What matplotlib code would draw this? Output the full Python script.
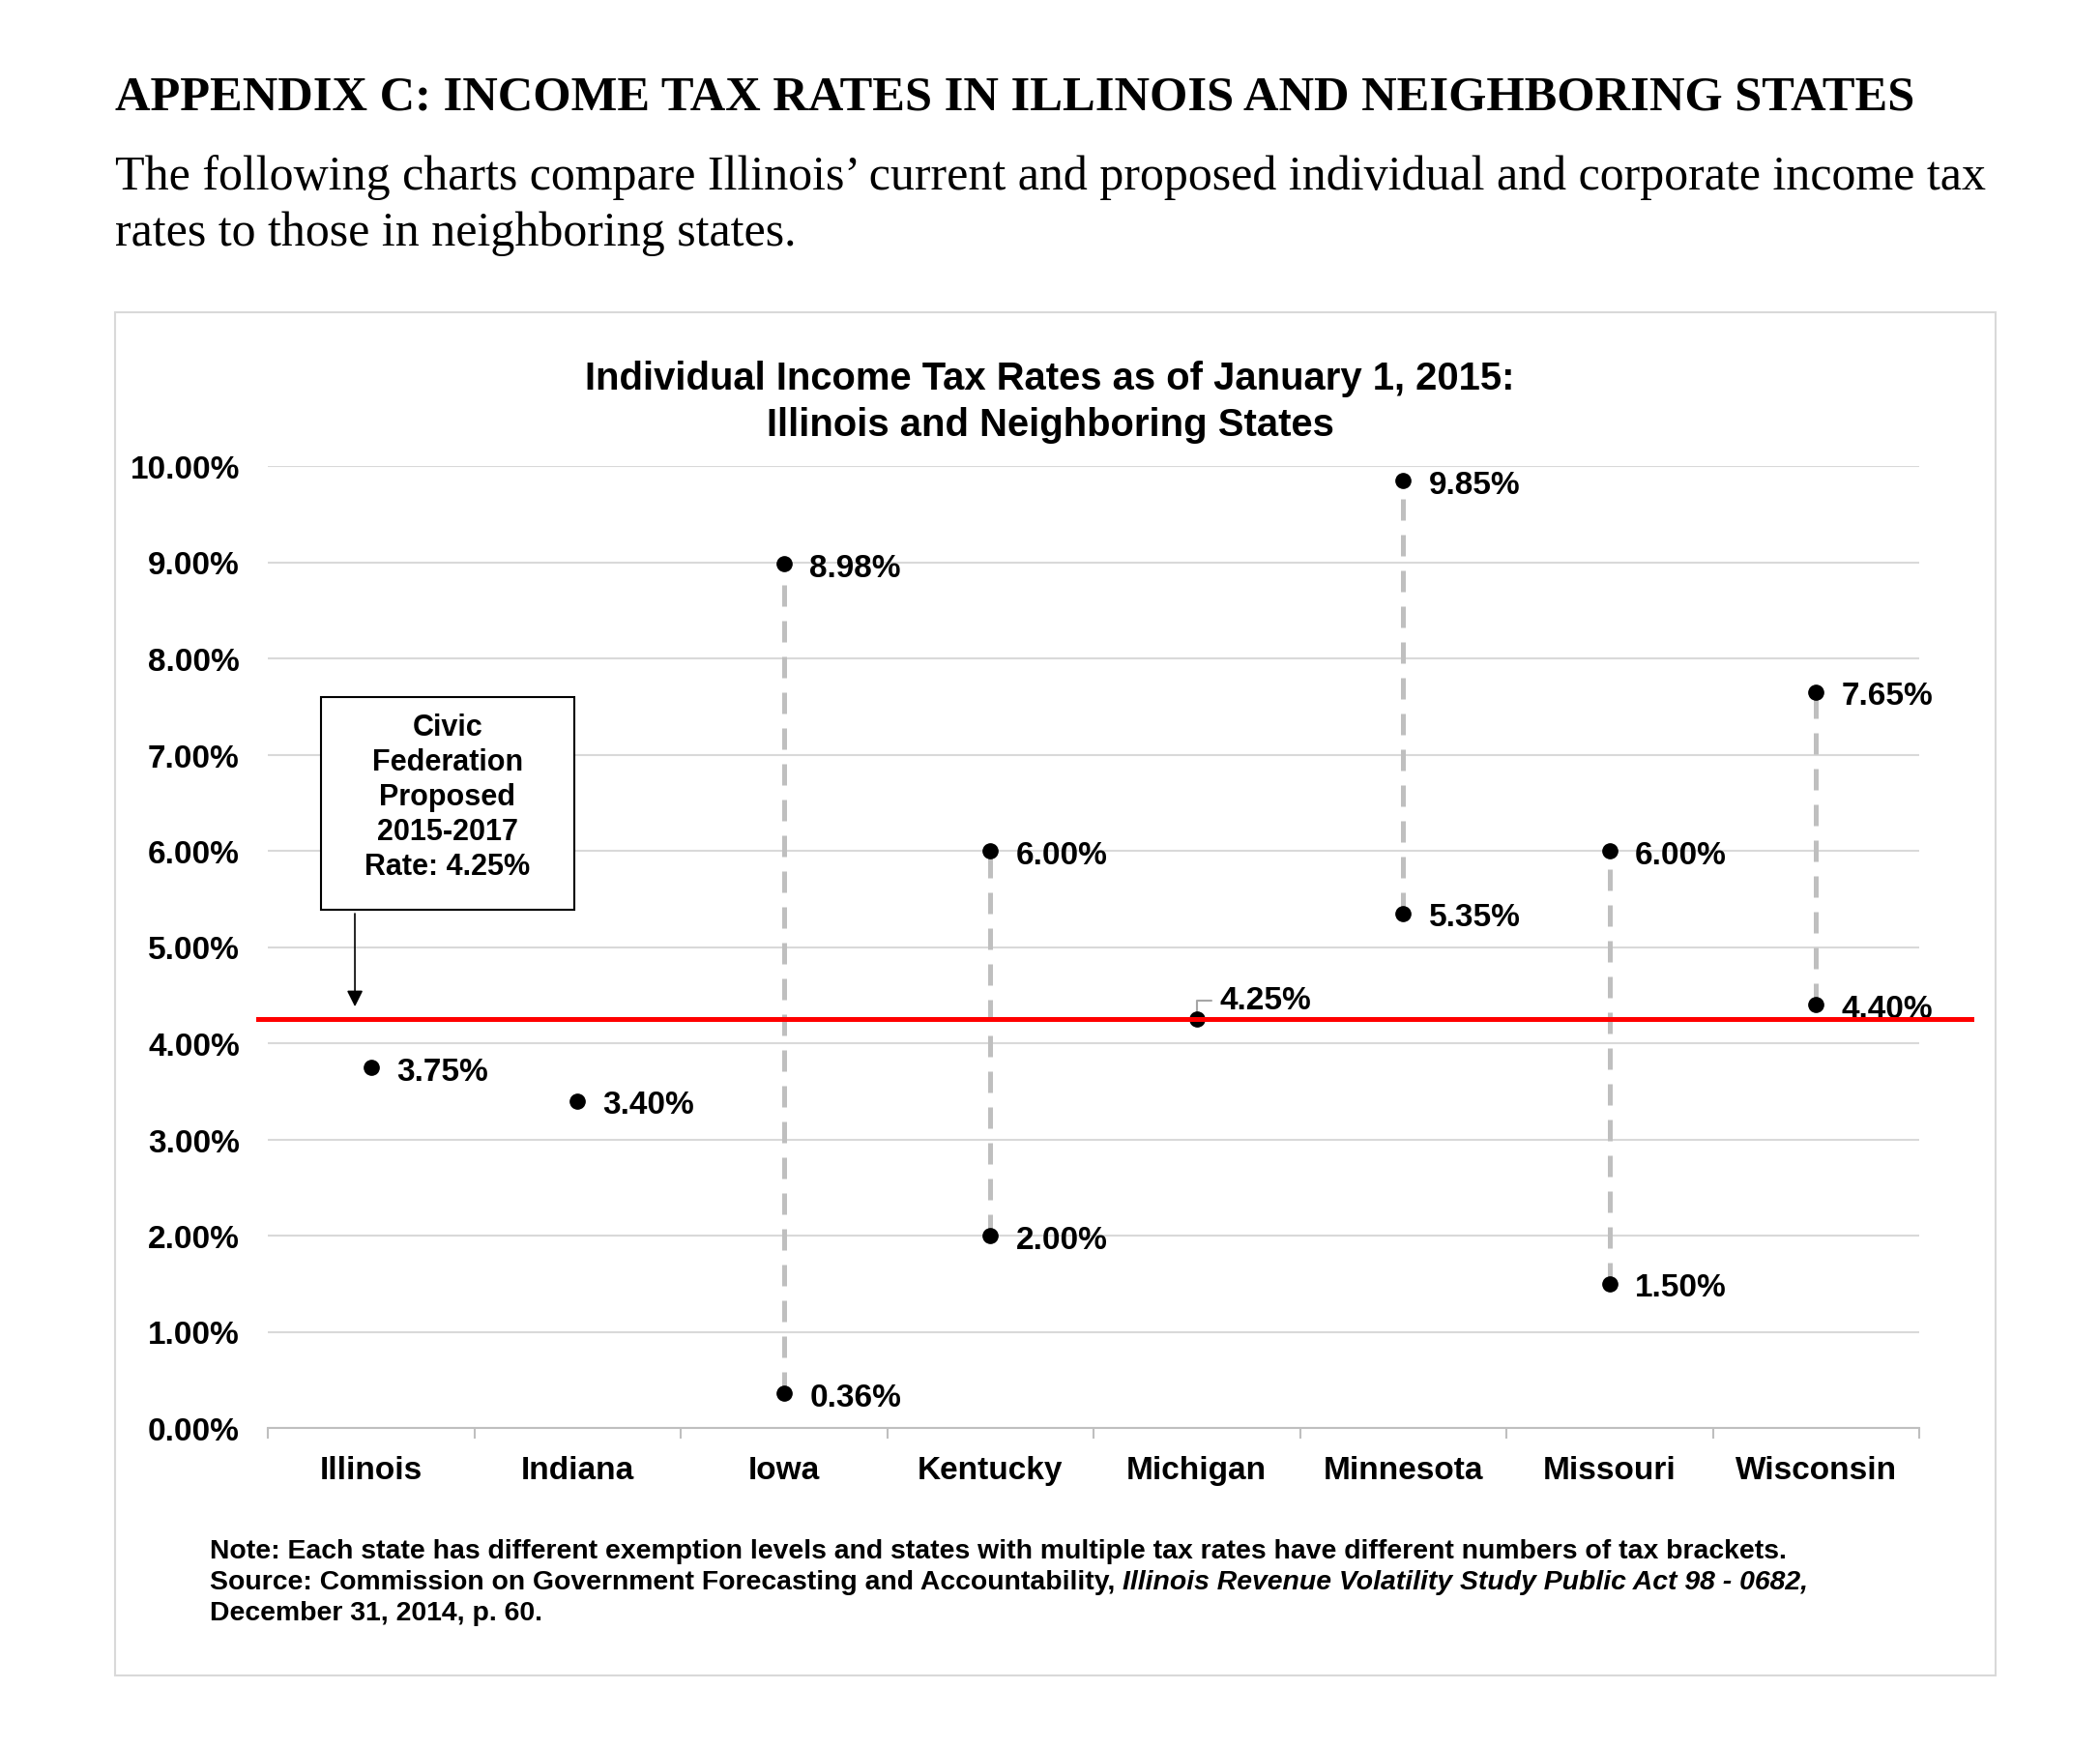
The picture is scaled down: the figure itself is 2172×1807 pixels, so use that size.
import matplotlib
matplotlib.use("Agg")
import matplotlib.pyplot as plt
from matplotlib.patches import Rectangle

# ---------------- data ----------------
states = ["Illinois", "Indiana", "Iowa", "Kentucky", "Michigan", "Minnesota", "Missouri", "Wisconsin"]
low_rates = [3.75, 3.40, 0.36, 2.00, 4.25, 5.35, 1.50, 4.40]
high_rates = [None, None, 8.98, 6.00, None, 9.85, 6.00, 7.65]
proposed_rate = 4.25
y_ticks = [0, 1, 2, 3, 4, 5, 6, 7, 8, 9, 10]

heading = "APPENDIX C: INCOME TAX RATES IN ILLINOIS AND NEIGHBORING STATES"
intro_lines = ["The following charts compare Illinois\u2019 current and proposed individual and corporate income tax",
               "rates to those in neighboring states."]
chart_title = ["Individual Income Tax Rates as of January 1, 2015:", "Illinois and Neighboring States"]
box_text = "Civic\nFederation\nProposed\n2015-2017\nRate: 4.25%"
note_line = "Note: Each state has different exemption levels and states with multiple tax rates have different numbers of tax brackets."
source_plain = "Source: Commission on Government Forecasting and Accountability, "
source_italic = "Illinois Revenue Volatility Study Public Act 98 - 0682,"
source_line3 = "December 31, 2014, p. 60."

SANS = "Liberation Sans"
SERIF = "Liberation Serif"
W, H = 2172, 1808

fig = plt.figure(figsize=(W / 100, H / 100), dpi=100)
fig.patch.set_facecolor("white")

def fx(px):
    return px / W

def fy(py):
    return 1 - py / H

# outer frame
fig.patches.append(Rectangle((fx(119), fy(1734)), fx(2064) - fx(119), fy(324) - fy(1734),
                             transform=fig.transFigure, fill=False, edgecolor="#D9D9D9", linewidth=1.5))

# header text
fig.text(fx(119), fy(101), heading, fontfamily=SERIF, fontweight="bold", fontsize=36.4, va="center", ha="left")
fig.text(fx(119), fy(184), intro_lines[0], fontfamily=SERIF, fontsize=36, va="center", ha="left")
fig.text(fx(119), fy(242), intro_lines[1], fontfamily=SERIF, fontsize=36, va="center", ha="left")

# chart title
fig.text(0.5, fy(392), chart_title[0], fontfamily=SANS, fontweight="bold", fontsize=28.8, va="center", ha="center")
fig.text(0.5, fy(440), chart_title[1], fontfamily=SANS, fontweight="bold", fontsize=28.8, va="center", ha="center")

# axes
ax_left, ax_right, ax_top, ax_bottom = 277, 1985, 483, 1478
ax = fig.add_axes([fx(ax_left), fy(ax_bottom), fx(ax_right) - fx(ax_left), fy(ax_top) - fy(ax_bottom)])
ax.set_xlim(-0.5, len(states) - 0.5)
ax.set_ylim(0, 10)
for s in ["top", "right", "left"]:
    ax.spines[s].set_visible(False)
ax.spines["bottom"].set_color("#BFBFBF")
ax.spines["bottom"].set_linewidth(1.5)

ax.set_yticks(y_ticks)
ax.set_yticklabels([f"{v:.2f}%" for v in y_ticks], fontfamily=SANS, fontweight="bold", fontsize=24)
ax.tick_params(axis="y", length=0, pad=21)
ax.yaxis.grid(True, color="#D9D9D9", linewidth=1.5)
ax.set_axisbelow(True)

xs = list(range(len(states)))
ax.set_xticks(xs)
ax.set_xticklabels(states, fontfamily=SANS, fontweight="bold", fontsize=24)
ax.tick_params(axis="x", which="major", length=0, pad=20)
ax.set_xticks([i - 0.5 for i in range(len(states) + 1)], minor=True)
ax.tick_params(axis="x", which="minor", length=8, width=1.5, color="#BFBFBF", direction="out")

# dashed range lines
for x, lo, hi in zip(xs, low_rates, high_rates):
    if hi is not None:
        ln, = ax.plot([x, x], [lo, hi], color="#BFBFBF", linewidth=3.6, zorder=2)
        ln.set_dashes((4.4, 3))

# proposed red line (drawn over points and labels)
ax.axhline(proposed_rate, xmin=-0.006, xmax=1.0316, color="#FF0000", linewidth=3.6, clip_on=False, zorder=7)

# points and labels
for x, lo, hi in zip(xs, low_rates, high_rates):
    vals = [lo] if hi is None else [lo, hi]
    for v in vals:
        ax.plot([x], [v], "o", color="black", markersize=11, zorder=4, clip_on=False)
        if states[x] == "Michigan":
            ax.annotate(f"{v:.2f}%", xy=(x, v), xytext=(17, 14), textcoords="offset points",
                        fontfamily=SANS, fontweight="bold", fontsize=24, va="center", ha="left",
                        arrowprops=dict(arrowstyle="-", color="#A6A6A6", linewidth=1.5,
                                        connectionstyle="angle,angleA=0,angleB=90,rad=0",
                                        shrinkA=4, shrinkB=0))
        else:
            ax.annotate(f"{v:.2f}%", xy=(x, v), xytext=(19, -3), textcoords="offset points",
                        fontfamily=SANS, fontweight="bold", fontsize=24, va="center", ha="left", zorder=5)

# annotation box (figure pixel geometry)
fig.patches.append(Rectangle((fx(332), fy(942)), fx(594) - fx(332), fy(722) - fy(942),
                             transform=fig.transFigure, fill=True, facecolor="white",
                             edgecolor="black", linewidth=1.5, zorder=5))
fig.text(fx(463), fy(825), box_text, fontfamily=SANS, fontweight="bold", fontsize=22,
         ha="center", va="center", linespacing=1.27, zorder=6)
ax.annotate("", xy=(-0.078, 4.38), xycoords="data",
            xytext=(fx(367), fy(946)), textcoords="figure fraction",
            arrowprops=dict(arrowstyle="-|>", color="black", linewidth=1.2, mutation_scale=25,
                            shrinkA=0, shrinkB=0), annotation_clip=False)

# footnotes
FN = 20.4
fig.text(fx(217), fy(1605), note_line, fontfamily=SANS, fontweight="bold", fontsize=FN, va="center", ha="left")
t = fig.text(fx(217), fy(1637), source_plain, fontfamily=SANS, fontweight="bold", fontsize=FN, va="center", ha="left")
fig.canvas.draw()
bb = t.get_window_extent()
fig.text(bb.x1 / W, fy(1637), source_italic, fontfamily=SANS, fontweight="bold", fontstyle="italic",
         fontsize=FN, va="center", ha="left")
fig.text(fx(217), fy(1669), source_line3, fontfamily=SANS, fontweight="bold", fontsize=FN, va="center", ha="left")

fig.savefig("out.png", dpi=100)
